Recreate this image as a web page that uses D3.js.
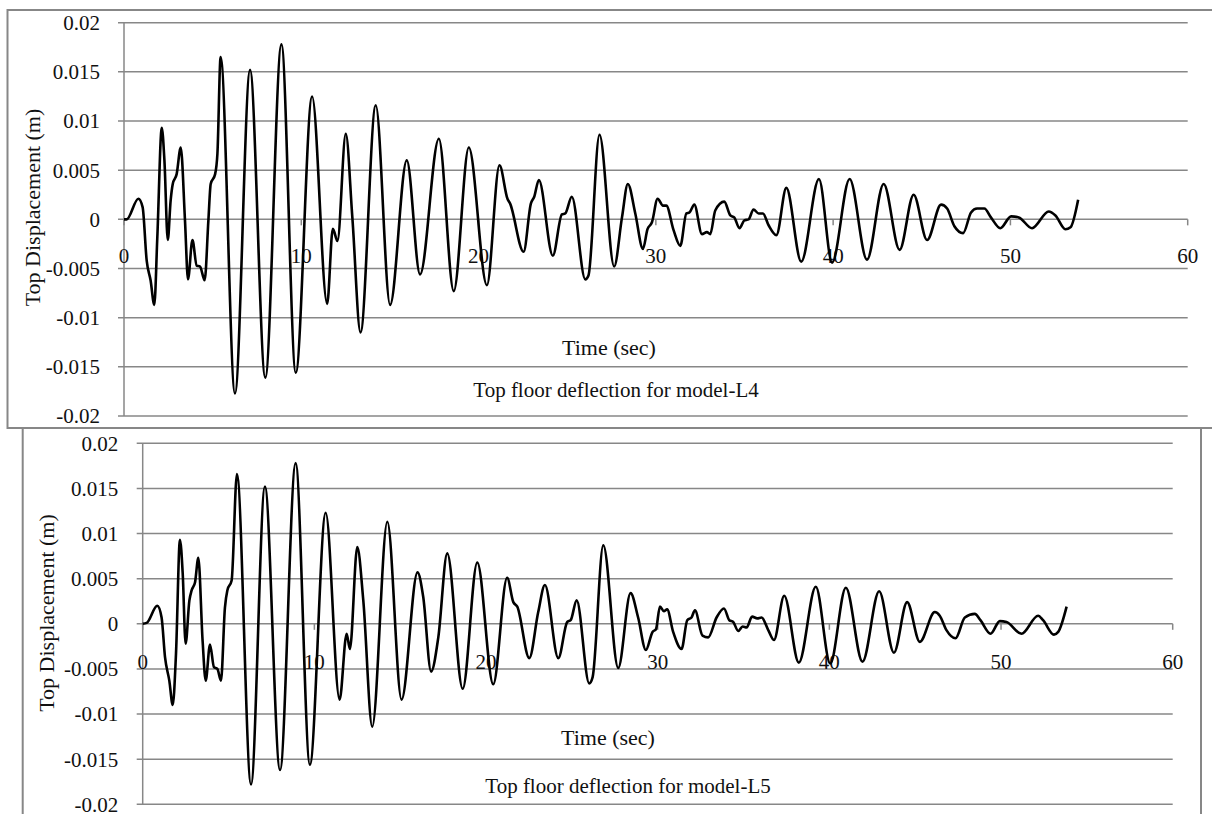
<!DOCTYPE html>
<html>
<head>
<meta charset="utf-8">
<script src="https://cdn.jsdelivr.net/npm/d3@7"></script>
<style>
  body { margin: 0; background: #fff; overflow: hidden; }
</style>
</head>
<body>
<div id="fig"></div>
<script>
// time (sec) and top displacement (m)
var timeL4 = [0, 0.15, 0.81, 1.05, 1.28, 1.5, 1.71, 1.88, 2.13, 2.28, 2.47, 2.63, 2.75, 2.97, 3.2, 3.44, 3.61, 3.86, 4.1, 4.29,
  4.55, 4.76, 4.89, 5.14, 5.27, 5.45, 6.26, 7.11, 7.97, 8.88, 9.69, 10.61, 11.46, 11.78, 12.04, 12.51, 12.88, 13.34, 14.2, 15.01,
  15.95, 16.7, 17.76, 18.6, 19.45, 20.47, 21.18, 21.63, 21.78, 22.54, 22.95, 23.14, 23.4, 24.19, 24.7, 24.89, 25.26, 26.02, 26.2, 26.82,
  27.65, 28.09, 28.42, 28.84, 29.27, 29.53, 29.78, 30.1, 30.4, 30.59, 31.0, 31.38, 31.72, 31.9, 32.17, 32.6, 32.88, 33.07, 33.35, 33.86,
  34.2, 34.42, 34.72, 34.99, 35.23, 35.51, 35.8, 36.04, 36.36, 36.8, 37.36, 38.2, 39.2, 39.94, 40.93, 41.91, 42.85, 43.75, 44.54, 45.3,
  46.09, 46.43, 46.84, 47.33, 47.78, 48.12, 48.53, 48.9, 49.43, 50.04, 50.47, 51.22, 52.16, 52.54, 53.1, 53.39, 53.82];
var dispL4 = [0, 0, 0.0021, 0.00125, -0.0042, -0.0062, -0.0087, -0.0018, 0.0093, 0.006, -0.0021, 0.0019, 0.0036, 0.0046, 0.0073, -0.0001, -0.0061, -0.0021, -0.0047, -0.0048,
  -0.0062, -0.0001, 0.0036, 0.0046, 0.0067, 0.0165, -0.0177, 0.0152, -0.0161, 0.0178, -0.0156, 0.0125, -0.0086, -0.00095, -0.0022, 0.0087, 0.0002, -0.0115, 0.0116, -0.0087,
  0.006, -0.0056, 0.0082, -0.0073, 0.0073, -0.0067, 0.0055, 0.0021, 0.0016, -0.0033, 0.0016, 0.0023, 0.004, -0.0037, 0.0005, 0.0006, 0.0023, -0.0061, -0.0057, 0.0086,
  -0.0048, 0.0002, 0.0036, 0.0006, -0.003, -0.001, -0.0003, 0.0021, 0.0014, 0.0014, -0.0011, -0.0027, 0.0006, 0.0007, 0.0015, -0.0015, -0.0013, -0.0015, 0.0009, 0.0018,
  0.0004, 0.0002, -0.0009, -0.0001, 0, 0.001, 0.0006, 0.0006, -0.0006, -0.0016, 0.0032, -0.0043, 0.0041, -0.0044, 0.0041, -0.0041, 0.0036, -0.0031, 0.0025, -0.0021,
  0.0015, 0.0011, -0.0007, -0.0014, 0.0007, 0.0011, 0.0011, 0.0002, -0.0009, 0.0003, 0.0002, -0.0009, 0.0008, 0.0004, -0.001, -0.0008, 0.002];

var timeL5 = [0, 0.23, 0.85, 1.1, 1.3, 1.55, 1.75, 1.94, 2.17, 2.33, 2.5, 2.72, 2.85, 3.05, 3.24, 3.49, 3.67, 3.92, 4.15, 4.35,
  4.56, 4.79, 4.93, 5.18, 5.49, 6.31, 7.12, 8.0, 8.91, 9.74, 10.66, 11.47, 11.88, 12.07, 12.5, 12.85, 13.37, 14.25, 15.08, 16.01,
  16.34, 16.8, 17.22, 17.74, 18.64, 19.49, 20.42, 21.23, 21.59, 21.82, 22.52, 23.04, 23.43, 24.21, 24.73, 24.93, 25.28, 26.01, 26.21, 26.83,
  27.7, 28.42, 28.86, 29.31, 29.7, 29.9, 30.13, 30.36, 30.55, 30.9, 31.39, 31.72, 31.97, 32.17, 32.61, 32.94, 33.43, 33.86, 34.17, 34.4,
  34.69, 34.95, 35.18, 35.5, 35.8, 36.05, 36.44, 36.77, 37.37, 38.22, 39.21, 40.05, 40.96, 41.93, 42.9, 43.76, 44.53, 45.27, 46.14, 46.43,
  46.82, 47.35, 47.89, 48.47, 48.8, 49.39, 49.93, 50.32, 51.19, 52.16, 52.45, 53.08, 53.33, 53.82];
var dispL5 = [0, 0.0001, 0.002, 0.0007, -0.0037, -0.0063, -0.009, -0.0033, 0.0093, 0.0056, -0.0022, 0.0026, 0.0037, 0.0046, 0.0073, -0.0019, -0.0063, -0.0023, -0.0048, -0.005,
  -0.0063, 0.0018, 0.0037, 0.0048, 0.0166, -0.0178, 0.0152, -0.0162, 0.0178, -0.0156, 0.0123, -0.0084, -0.0011, -0.0028, 0.0085, 0.0026, -0.0114, 0.0113, -0.0084, 0.0057,
  0.003, -0.0053, -0.0015, 0.0078, -0.0072, 0.0068, -0.0067, 0.0051, 0.0024, 0.0019, -0.0038, 0.0013, 0.0043, -0.0038, 0.0002, 0.0004, 0.0026, -0.0066, -0.0059, 0.0087,
  -0.0049, 0.0034, 0.0007, -0.0029, -0.0009, -0.0006, 0.0019, 0.0014, 0.0016, -0.0009, -0.0028, 0.0004, 0.0007, 0.0015, -0.0013, -0.0015, 0.0007, 0.0017, 0.0004, 0.0002,
  -0.0008, -0.0003, -0.0004, 0.0008, 0.0006, 0.0007, -0.0007, -0.0018, 0.0031, -0.0043, 0.0041, -0.0044, 0.004, -0.0042, 0.0036, -0.0032, 0.0024, -0.002, 0.0013, 0.0009,
  -0.0007, -0.0016, 0.0007, 0.0011, 0.0004, -0.0011, 0.0003, 0.0002, -0.0011, 0.0009, 0.0004, -0.0012, -0.0009, 0.0019];

var yTicks = [0.02, 0.015, 0.01, 0.005, 0, -0.005, -0.01, -0.015, -0.02];
var yTickLabels = ["0.02", "0.015", "0.01", "0.005", "0", "-0.005", "-0.01", "-0.015", "-0.02"];
var xTicks = [0, 10, 20, 30, 40, 50, 60];
var yTitle = "Top Displacement (m)";
var xTitle = "Time (sec)";
var captions = ["Top floor deflection for model-L4", "Top floor deflection for model-L5"];

var serif = "'Liberation Serif', 'Times New Roman', Times, 'DejaVu Serif', serif";
var grid = "#878787";

var svg = d3.select("#fig").append("svg")
    .attr("width", 1212)
    .attr("height", 814)
    .style("display", "block");

function addText(g, size) {
    return g.append("text")
        .attr("font-family", serif)
        .attr("font-size", size)
        .attr("fill", "#111");
}

function drawChart(c, times, values, caption) {
    var g = svg.append("g");

    // chart frame
    g.append("rect")
        .attr("x", c.frame[0]).attr("y", c.frame[1])
        .attr("width", c.frame[2]).attr("height", c.frame[3])
        .attr("fill", "none").attr("stroke", grid).attr("stroke-width", 2);

    var x = d3.scaleLinear().domain([0, 60]).range([c.left, c.right]);
    var y = d3.scaleLinear().domain([-0.02, 0.02]).range([c.bottom, c.top]);

    // horizontal gridlines with small outside ticks
    g.selectAll(".grid").data(yTicks).enter().append("line")
        .attr("x1", c.left - 6).attr("x2", c.right)
        .attr("y1", d => y(d)).attr("y2", d => y(d))
        .attr("stroke", grid).attr("stroke-width", 1.5);

    g.append("line")
        .attr("x1", c.left).attr("x2", c.left)
        .attr("y1", c.top).attr("y2", c.bottom)
        .attr("stroke", grid).attr("stroke-width", 1.5);

    yTicks.forEach(function(d, i) {
        addText(g, 21)
            .attr("x", c.labelRight)
            .attr("y", y(d))
            .attr("dy", "0.35em")
            .attr("text-anchor", "end")
            .text(yTickLabels[i]);
    });

    // x ticks hang off the zero line
    g.selectAll(".xtick").data(xTicks).enter().append("line")
        .attr("x1", d => x(d)).attr("x2", d => x(d))
        .attr("y1", y(0)).attr("y2", y(0) + 6)
        .attr("stroke", grid).attr("stroke-width", 1.5);

    xTicks.forEach(function(d) {
        addText(g, 21)
            .attr("x", x(d))
            .attr("y", y(0) + c.xLabelOffset)
            .attr("text-anchor", "middle")
            .text(d);
    });

    var line = d3.line()
        .x(d => x(d[0]))
        .y(d => y(d[1]))
        .curve(d3.curveMonotoneX);

    g.append("path")
        .datum(d3.zip(times, values))
        .attr("d", line)
        .attr("fill", "none")
        .attr("stroke", "#000")
        .attr("stroke-width", 2.6)
        .attr("stroke-linejoin", "round");

    addText(g, 22)
        .attr("transform", "translate(" + c.yTitle[0] + "," + c.yTitle[1] + ") rotate(-90)")
        .attr("text-anchor", "middle")
        .attr("dy", "0.35em")
        .text(yTitle);

    addText(g, 22)
        .attr("x", c.xTitle[0]).attr("y", c.xTitle[1])
        .attr("text-anchor", "middle")
        .text(xTitle);

    addText(g, 21)
        .attr("x", c.caption[0]).attr("y", c.caption[1])
        .attr("text-anchor", "middle")
        .text(caption);
}

drawChart({
    frame: [7.5, 10, 1260, 418],
    left: 124, right: 1187.7, top: 22.7, bottom: 416,
    labelRight: 100, xLabelOffset: 44,
    yTitle: [32, 207.5], xTitle: [609, 355], caption: [616, 397]
}, timeL4, dispL4, captions[0]);

drawChart({
    frame: [22.7, 428, 1178.3, 420],
    left: 142.7, right: 1172.7, top: 443.3, bottom: 804.3,
    labelRight: 118.3, xLabelOffset: 45,
    yTitle: [46.7, 613], xTitle: [608, 745], caption: [628, 793]
}, timeL5, dispL5, captions[1]);
</script>
</body>
</html>
